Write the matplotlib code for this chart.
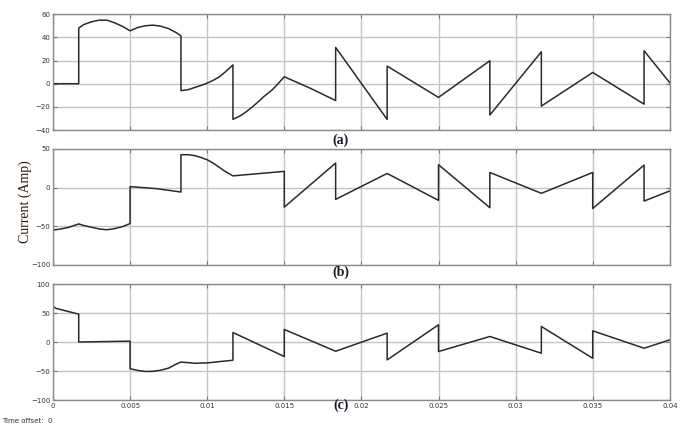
import numpy as np
import matplotlib
matplotlib.use('Agg')
import matplotlib.pyplot as plt

# =============================================================================
#  Data (time in s, current in A)
# =============================================================================

# (a)
t_a = [0, 0.00167, 0.00167, 0.002, 0.0025, 0.003, 0.0035, 0.004, 0.0045, 0.005,
       0.0055, 0.006, 0.0065, 0.007, 0.0075, 0.008, 0.0083,
       0.0083, 0.0088, 0.0092, 0.0096, 0.0100, 0.0104, 0.0108, 0.0112, 0.01167,
       0.01167, 0.0121, 0.0125, 0.0129, 0.0133, 0.0137, 0.0142, 0.0146, 0.015,
       0.0167, 0.01833, 0.01833, 0.02167, 0.02167, 0.025, 0.02833, 0.02833, 0.03167, 0.03167,
       0.035, 0.03833, 0.03833, 0.04]
i_a = [0, 0, 48, 51, 53.4, 54.8, 54.8, 52.5, 49.5, 45.6,
       48.5, 50, 50.5, 49.5, 47.5, 44, 41.3,
       -6, -5, -3.2, -1.5, 0.5, 3, 6, 10.5, 16.2,
       -30.7, -28, -24.5, -20.3, -15.7, -10.8, -5.5, 0, 6,
       -4, -14.5, 31.3, -30.8, 15.2, -11.8, 19.8, -27, 27.5, -19.3,
       9.7, -17.6, 28.4, 0.8]

# (b)
t_b = [0, 0, 0.0005, 0.001, 0.00167, 0.002, 0.0025, 0.003, 0.0035, 0.004, 0.0045, 0.005,
       0.005, 0.0067, 0.0083,
       0.0083, 0.0088, 0.0092, 0.0096, 0.01, 0.0104, 0.0108, 0.0112, 0.01167,
       0.015, 0.015, 0.01833, 0.01833, 0.02167, 0.025,
       0.025, 0.02833, 0.02833, 0.03167, 0.035, 0.035, 0.03833, 0.03833, 0.04]
i_b = [-60, -55, -53.5, -51.5, -47, -49, -51.3, -53.5, -54.5, -53, -50.5, -46.5,
       1.3, -1.3, -5.7,
       42.6, 42.5, 41.3, 39, 36, 31.5, 26, 20.5, 15.2,
       21, -25.2, 31.7, -15.2, 18.3, -16.5,
       29.6, -26, 19.6, -7.4, 19.6, -27, 29.1, -17.4, -4.3]

# (c)
t_c = [0, 0, 0.0002, 0.00167, 0.00167, 0.005,
       0.005, 0.0055, 0.006, 0.0065, 0.007, 0.0075, 0.008, 0.0083, 0.0092,
       0.01, 0.01167, 0.01167, 0.015, 0.015, 0.01833, 0.02167, 0.02167, 0.025, 0.025,
       0.02833, 0.03167, 0.03167, 0.035, 0.035, 0.03833, 0.04]
i_c = [0, 61, 58, 48, 0, 1.5,
       -46, -49, -50.8, -50.5, -48.5, -45, -38, -34.5, -36.6,
       -36, -31.4, 16.4, -25, 21.6, -15.9, 15.3, -30.8, 29.7, -16.4,
       9.5, -19.3, 26.8, -28, 19.3, -10.7, 3.7]

panels = [
    (t_a, i_a, (-40, 60), [-40, -20, 0, 20, 40, 60], '(a)'),
    (t_b, i_b, (-100, 50), [-100, -50, 0, 50], '(b)'),
    (t_c, i_c, (-100, 100), [-100, -50, 0, 50, 100], '(c)'),
]
xticks = [0, 0.005, 0.01, 0.015, 0.02, 0.025, 0.03, 0.035, 0.04]
xticklabels = ['0', '0.005', '0.01', '0.015', '0.02', '0.025', '0.03', '0.035', '0.04']

# =============================================================================

fig = plt.figure(figsize=(6.97, 4.28), dpi=100)

# axes boxes in figure fraction (left, bottom, width, height)
boxes = [(0.076, 0.696, 0.885, 0.271),
         (0.076, 0.381, 0.885, 0.271),
         (0.076, 0.0654, 0.885, 0.271)]
label_y = [0.673, 0.364, 0.052]

for k, (t, cur, ylim, yt, lab) in enumerate(panels):
    ax = fig.add_axes(boxes[k])
    ax.plot(t, cur, color='#2a2a2a', lw=1.1)
    ax.set_xlim(0, 0.04)
    ax.set_ylim(*ylim)
    ax.set_xticks(xticks)
    ax.set_yticks(yt)
    ax.grid(True, color='#c4c4c4', lw=1.0)
    ax.tick_params(direction='in', length=3, width=0.8, color='#777777',
                   labelsize=5, labelcolor='#333333', top=True, right=True, pad=2)
    if k < 2:
        ax.set_xticklabels([])
    else:
        ax.set_xticklabels(xticklabels)
    for s in ax.spines.values():
        s.set_color('#8a8a8a')
        s.set_linewidth(1.0)
    fig.text(0.489, label_y[k], lab, ha='center', va='center', fontsize=10,
             fontweight='bold', family='Liberation Serif', color='#1a1a2a')

fig.text(0.036, 0.53, 'Current (Amp)', rotation=90, ha='center', va='center',
         fontsize=10, family='Liberation Serif', color='#2b1d0e')
fig.text(0.003, 0.016, 'Time offset:  0', ha='left', va='center', fontsize=5,
         color='#333333')

plt.savefig('out.png', dpi=100)
